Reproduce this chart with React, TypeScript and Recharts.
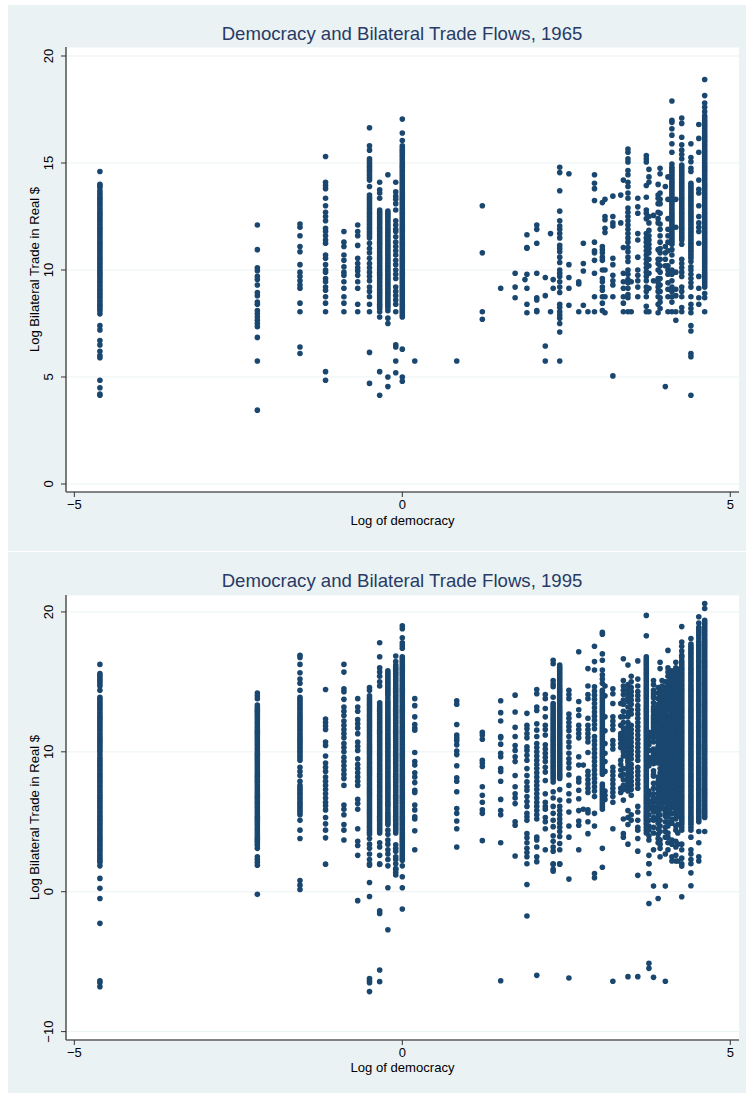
import { ScatterChart, Scatter, XAxis, YAxis, CartesianGrid } from "recharts";

const FONT = '"Liberation Sans", Arial, sans-serif';
const PANEL_BG = "#eaf2f3";
const AXIS_COLOR = "#5c5c5c";
const MARKER = "#1a476f";

const xTicks = [-5, 0, 5];
const xDomain = [-5.127, 5.133];

// democracy scores that show up as columns in 1965
const x1965 = [
  -4.61, -2.21, -1.56, -1.17, -0.89, -0.68, -0.5, -0.345, -0.22, -0.1, 0, 0.19, 0.83, 1.22, 1.5, 1.72, 1.87, 1.9, 2.05,
  2.18, 2.26, 2.3, 2.4, 2.54, 2.69, 2.76, 2.83, 2.93, 3.05, 3.09, 3.21, 3.33, 3.37, 3.44, 3.49, 3.59, 3.72, 3.76, 3.83,
  3.9, 3.93, 4.01, 4.05, 4.11, 4.17, 4.26, 4.4, 4.52, 4.61,
];

const y1965 = [
  [14.6, 14, 13.85, 13.7, 13.5, 13.3, 13.1, 12.9, 12.7, 12.5, 12.3, 12.1, 11.9, 11.7, 11.5, 11.3, 11.1, 10.9, 10.7, 10.5, 10.3, 10.1, 9.9, 9.7, 9.5, 9.3, 9.1, 8.9, 8.7, 8.5, 8.3, 8.1, 7.95, 7.4, 7.2, 6.7, 6.5, 6.2, 6, 5.9, 4.85, 4.5, 4.15, 4.2],
  [12.1, 10.95, 10.1, 9.97, 9.7, 9.55, 9.3, 8.95, 8.8, 8.5, 8.4, 8.1, 7.95, 7.8, 7.65, 7.5, 7.35, 6.85, 5.75, 3.45],
  [12.15, 12, 11.6, 11.1, 10.85, 10.25, 9.9, 9.7, 9.5, 9.3, 9.15, 8.45, 8.05, 6.4, 6.1],
  [15.3, 14.1, 13.95, 13.8, 13.35, 13, 12.7, 12.5, 12.3, 11.95, 11.8, 11.6, 11.4, 11.25, 10.7, 10.55, 10.25, 10, 9.9, 9.6, 9.45, 9.2, 9.05, 8.75, 8.45, 8.05, 5.25, 4.85],
  [11.8, 11.3, 11.1, 10.7, 10.45, 10.15, 9.9, 9.75, 9.45, 9.15, 8.75, 8.45, 8.05],
  [12.1, 11.8, 11.6, 11.15, 10.55, 10.3, 10.1, 9.95, 9.75, 9.45, 9.15, 8.4, 8.05],
  [16.65, 15.8, 15.6, 15.2, 15, 14.8, 14.6, 14.4, 14.2, 13.9, 13.5, 13.3, 13.1, 12.9, 12.7, 12.5, 12.3, 12.1, 11.9, 11.7, 11.5, 11.25, 11, 10.8, 10.55, 10.3, 10.1, 9.9, 9.7, 9.5, 9.2, 9, 8.75, 8.4, 8.05, 6.15, 4.7],
  [14.1, 13.75, 13.6, 13.35, 12.8, 12.6, 12.4, 12.2, 12, 11.8, 11.6, 11.4, 11.2, 11, 10.8, 10.6, 10.4, 10.2, 10, 9.8, 9.6, 9.4, 9.2, 9, 8.8, 8.6, 8.4, 8.2, 8.05, 7.8, 5.25, 4.15],
  [14.45, 12.75, 12.55, 12.35, 12.15, 11.95, 11.75, 11.55, 11.35, 11.15, 10.95, 10.75, 10.55, 10.35, 10.15, 9.95, 9.75, 9.55, 9.35, 9.15, 8.95, 8.75, 8.55, 8.35, 8.1, 7.75, 7.5, 5, 4.55],
  [14.1, 13.65, 13.45, 13.3, 13.1, 12.8, 12.3, 12.1, 11.9, 11.8, 11.55, 11.3, 11.1, 10.9, 10.7, 10.45, 10.25, 10, 9.8, 9.6, 9.2, 9, 8.8, 8.6, 8.4, 8.05, 6.5, 6.4, 5.75, 5.2],
  [17.05, 16.4, 16.05, 15.8, 15.6, 15.4, 15.2, 15, 14.8, 14.6, 14.4, 14.2, 14, 13.8, 13.6, 13.4, 13.2, 13, 12.8, 12.6, 12.4, 12.2, 12, 11.8, 11.6, 11.4, 11.2, 11, 10.8, 10.6, 10.4, 10.2, 10, 9.8, 9.6, 9.4, 9.2, 9, 8.8, 8.6, 8.4, 8.2, 8, 7.8, 6.3, 5, 4.8],
  [5.75],
  [5.75],
  [13, 10.8, 8.05, 7.7],
  [9.15],
  [9.85, 9.2, 8.7],
  [9.55],
  [11.65, 11.05, 11.02, 9.8, 9.15, 8.4, 8],
  [12.1, 11.9, 11.25, 9.85, 8.7, 8.6, 8.1, 8.05],
  [9.65, 8.8, 6.45, 5.75],
  [11.7, 8.05],
  [9.55, 9.15],
  [14.8, 14.55, 13.7, 12.75, 12.3, 12.05, 11.9, 11.7, 11.5, 11.15, 11, 10.85, 10.6, 10.35, 10, 9.85, 9.7, 9.45, 9.2, 8.95, 8.4, 8.25, 8.05, 7.9, 7.75, 7.5, 7.1, 5.75],
  [14.5, 10.25, 9.65, 9.15, 8.35],
  [9.45, 9.35, 8.05],
  [11.25, 10.3, 9.95, 8.35],
  [8.05],
  [14.45, 14.05, 13.8, 13.25, 11.3, 10.9, 10.8, 10.45, 9.85, 8.75, 8.05],
  [13.15, 11.1, 10.95, 10.8, 10.6, 10.45, 10, 9.6, 9.45, 9.2, 9.05, 8.75, 8.45, 8.1],
  [13.3, 12.5, 12.35, 11.95, 11.75, 10, 8.75, 8],
  [13.45, 12.5, 12.2, 12.05, 10.55, 10.25, 9.75, 9.5, 9.3, 8.75, 5.05],
  [13.5, 12.2],
  [14.2, 11.05, 9.85, 9.45, 9.15, 8.75, 8.45, 8.05],
  [15.65, 15.5, 15.2, 15.05, 14.65, 14.45, 14.1, 13.9, 13.6, 13.35, 12.9, 12.7, 12.5, 12.3, 12.1, 11.9, 11.7, 11.5, 11.3, 11.05, 10.85, 10.6, 10.4, 10, 9.8, 9.55, 9.4, 9.15, 8.85, 8.7, 8.05],
  [9.45, 8.05],
  [13.35, 12.95, 12.65, 11.7, 11.4, 10.6, 10, 9.75, 9.5, 9.2, 8.75],
  [15.35, 15.2, 15.05, 13.95, 13.4, 12.8, 12.65, 12.4, 11.7, 11.5, 11.3, 11.1, 10.9, 10.7, 10.5, 10.3, 10.1, 9.9, 9.7, 9.5, 9.2, 9, 8.75, 8.3, 8.05],
  [14.7, 14.35, 14.1, 12.5, 12.2, 11.85, 11.6, 11.4, 11.2, 11, 10.8, 10.5, 10.2, 9.85, 9.15, 8.05],
  [12.55, 9.5],
  [14, 13.5, 13.35, 13.1, 12.7, 12.4, 12.2, 10.95, 10.5, 10.3, 10, 9.6, 9.4, 9.2, 9, 8.75, 8.4, 8],
  [14.75, 14.5, 13.6, 13.3, 13.1, 12.65, 12.15, 11.9, 11.6, 11.3, 11, 10.8, 10.5, 10.2, 9.9, 9.6, 9.3, 9, 8.7, 8.5, 8.2],
  [13.9, 11.1, 10.8, 10.5, 10.2, 4.55],
  [14.35, 13.3, 12.4, 11.9, 11.6, 11.3, 10.9, 10.2, 10, 9.8, 9.4, 9.1, 8.75, 8.05],
  [17.9, 17, 16.9, 16.6, 16.3, 15.9, 15.5, 14.95, 14.8, 14.6, 14.4, 14.2, 14, 13.8, 13.6, 13.4, 13.2, 13, 12.8, 12.6, 12.4, 12.2, 12, 11.8, 11.6, 11.4, 11.2, 10.95, 10.7, 10.4, 10, 9.8, 9.5, 9.2, 9, 8.75, 8.5, 8.05],
  [13.3, 12, 9.9, 9.1, 8.8, 8.05, 7.65],
  [17.1, 16.85, 16.2, 15.85, 15.6, 15.4, 15.2, 14.9, 14.7, 14.5, 14.3, 14.1, 13.9, 13.7, 13.5, 13.3, 13.1, 12.9, 12.7, 12.5, 12.3, 12.1, 11.9, 11.7, 11.5, 11.2, 10.5, 10.3, 10.1, 9.9, 9.7, 9.2, 9, 8.75, 8.25, 8.05],
  [15.9, 15.26, 15.06, 14.75, 14.6, 14.05, 13.85, 13.65, 13.45, 13.25, 13.05, 12.85, 12.65, 12.45, 12.25, 12.05, 11.85, 11.65, 11.45, 11.25, 11.05, 10.85, 10.65, 10.4, 10.15, 10, 9.8, 9.6, 9.4, 9.2, 8.75, 8.4, 8.2, 8, 7.4, 7.15, 6.1, 5.95, 4.15],
  [16.8, 16.15, 15.5, 14.2, 13.77, 13.6, 13, 12.5, 12.2, 12, 11.8, 11.25, 9.7, 9.15, 8.7, 8.4],
  [18.9, 18.15, 17.8, 17.6, 17.4, 17.2, 17, 16.8, 16.6, 16.4, 16.2, 16, 15.8, 15.6, 15.4, 15.2, 15, 14.8, 14.6, 14.4, 14.2, 14, 13.8, 13.6, 13.4, 13.2, 13, 12.8, 12.6, 12.4, 12.2, 12, 11.8, 11.6, 11.4, 11.2, 11, 10.8, 10.6, 10.4, 10.2, 10, 9.8, 9.6, 9.4, 9.2, 8.9, 8.7, 8.05],
];

// more observations on the columns that read as solid bars in 1965
const extraX1965 = [-4.61, -0.5, -0.345, -0.22, 0, 4.11, 4.26, 4.4, 4.61];

const extraY1965 = [
  [13.95, 13.6, 13.4, 13.2, 13, 12.8, 12.6, 12.4, 12.2, 12, 11.8, 11.6, 11.4, 11.2, 11, 10.8, 10.6, 10.4, 10.2, 10, 9.8, 9.6, 9.4, 9.2, 9, 8.8, 8.6, 8.4, 8.2],
  [15.1, 14.9, 14.7, 14.5, 14.3, 13.4, 13.2, 13, 12.8, 12.6, 12.4, 12.2, 12, 11.8, 11.6],
  [12.7, 12.5, 12.3, 12.1, 11.9, 11.7, 11.5, 11.3, 11.1, 10.9, 10.7, 10.5, 10.3, 10.1, 9.9, 9.7, 9.5, 9.3, 9.1, 8.9, 8.7, 8.5, 8.3],
  [12.65, 12.45, 12.25, 12.05, 11.85, 11.65, 11.45, 11.25, 11.05, 10.85, 10.65, 10.45, 10.25, 10.05, 9.85, 9.65, 9.45, 9.25, 9.05, 8.85, 8.65, 8.45, 8.25],
  [15.7, 15.5, 15.3, 15.1, 14.9, 14.7, 14.5, 14.3, 14.1, 13.9, 13.7, 13.5, 13.3, 13.1, 12.9, 12.7, 12.5, 12.3, 12.1, 11.9, 11.7, 11.5, 11.3, 11.1, 10.9, 10.7, 10.5, 10.3, 10.1, 9.9, 9.7, 9.5, 9.3, 9.1, 8.9, 8.7, 8.5, 8.3, 8.1, 7.9],
  [14.7, 14.5, 14.3, 14.1, 13.9, 13.7, 13.5, 13.3, 13.1, 12.9, 12.7, 12.5, 12.3, 12.1, 11.9, 11.7, 11.5, 11.3],
  [14.8, 14.6, 14.4, 14.2, 14, 13.8, 13.6, 13.4, 13.2, 13, 12.8, 12.6, 12.4, 12.2, 12, 11.8, 11.6, 11.4],
  [13.95, 13.75, 13.55, 13.35, 13.15, 12.95, 12.75, 12.55, 12.35, 12.15, 11.95, 11.75, 11.55, 11.35, 11.15, 10.95, 10.75, 10.55],
  [17.1, 16.9, 16.7, 16.5, 16.3, 16.1, 15.9, 15.7, 15.5, 15.3, 15.1, 14.9, 14.7, 14.5, 14.3, 14.1, 13.9, 13.7, 13.5, 13.3, 13.1, 12.9, 12.7, 12.5, 12.3, 12.1, 11.9, 11.7, 11.5, 11.3, 11.1, 10.9, 10.7, 10.5, 10.3, 10.1, 9.9, 9.7, 9.5, 9.3],
];

const x1995 = [
  -4.61, -2.21, -1.56, -1.17, -0.89, -0.68, -0.5, -0.345, -0.22, -0.1, 0, 0.19, 0.83, 1.22, 1.5, 1.72, 1.9, 2.05, 2.18, 2.3,
  2.4, 2.54, 2.69, 2.76, 2.83, 2.93, 3.05, 3.09, 3.21, 3.33, 3.37, 3.44, 3.49, 3.59, 3.72, 3.76, 3.83, 3.9, 3.93, 4.01,
  4.05, 4.11, 4.17, 4.2, 4.26, 4.4, 4.52, 4.61,
];

const y1995 = [
  [16.25, 15.6, 15.3, 15, 14.7, 14.4, 13.9, 13.6, 13.3, 13, 12.7, 12.4, 12.1, 11.8, 11.5, 11.2, 10.9, 10.6, 10.3, 10, 9.6, 9.3, 9, 8.7, 8.4, 8.1, 7.8, 7.5, 7.2, 6.9, 6.6, 6.3, 6, 5.7, 5.4, 5.1, 4.8, 4.5, 4.2, 3.9, 3.6, 3.3, 3, 2.7, 2.4, 2.1, 1.85, 0.95, 0.24, -0.48, -2.26, -6.36, -6.5, -6.79],
  [14.2, 14, 13.8, 13.2, 12.9, 12.6, 12.3, 12, 11.7, 11.4, 11.1, 10.8, 10.5, 10.2, 9.9, 9.6, 9.3, 9, 8.7, 8.4, 8.1, 7.8, 7.5, 7.2, 6.9, 6.6, 6.3, 6, 5.7, 5.4, 5.1, 4.8, 4.5, 4.2, 3.9, 3.6, 3.3, 3.1, 2.5, 2.3, 2.1, 1.9, -0.19],
  [16.9, 16.75, 16.25, 15.65, 15.2, 14.9, 14.4, 13.9, 13.6, 13.3, 13, 12.7, 12.4, 12.1, 11.8, 11.5, 11.2, 10.9, 10.6, 10.3, 10, 9.7, 9.4, 8.9, 8.6, 8.3, 7.9, 7.6, 7.3, 7, 6.7, 6.4, 6.1, 5.8, 5.5, 5.1, 4.4, 3.8, 0.8, 0.47, 0.16],
  [14.45, 12.35, 12.1, 11.85, 11.6, 10.7, 10.45, 9.7, 9.2, 8.9, 8.6, 8.2, 7.9, 7.6, 7.3, 7, 6.7, 6.4, 6.15, 5.85, 5.3, 4.85, 4.4, 3.85, 1.97],
  [16.25, 15.7, 14.5, 14.3, 13.75, 13.2, 12.9, 12.6, 12.2, 11.9, 11.6, 11.3, 11, 10.6, 10.3, 10, 9.6, 9.3, 9, 8.7, 8.4, 8.1, 7.6, 6.2, 5.9, 5.5, 4.8, 4.4, 3.7],
  [13.8, 13.2, 12.9, 12.3, 12, 11.7, 11.3, 10.7, 10.4, 10.1, 9.5, 9.1, 8.8, 8.5, 8.2, 7.9, 7.6, 6.6, 6.3, 5.9, 4.5, 3.6, 3.3, 2.6, -0.64],
  [14.6, 14.4, 14, 13.7, 13.4, 13.1, 12.8, 12.5, 12.2, 11.9, 11.6, 11.3, 11, 10.7, 10.4, 10.1, 9.8, 9.5, 9.2, 8.9, 8.6, 8.3, 8, 7.7, 7.4, 7.1, 6.8, 6.5, 6.2, 5.9, 5.6, 5.3, 5, 4.7, 4.4, 4.1, 3.8, 3.4, 3.1, 2.7, 2.3, 2, 1.9, 0.66, -0.34, -6.2, -6.36, -6.5, -7.14],
  [17.8, 16.8, 16, 15.7, 15.4, 15, 14.7, 13.5, 13.2, 12.9, 12.6, 12.3, 12, 11.7, 11.4, 11.1, 10.8, 10.5, 10.2, 9.9, 9.6, 9.3, 9, 8.7, 8.4, 8.1, 7.8, 7.5, 7.2, 6.9, 6.6, 6.3, 6, 5.7, 5.4, 5.1, 4.8, 4.5, 4.2, 3.5, 3.2, 2.6, 2, 1.95, -1.36, -1.55, -5.6, -6.43],
  [15.8, 15.5, 15.2, 14.9, 14.6, 14.3, 14, 13.6, 13.3, 13, 12.7, 12.4, 12.1, 11.8, 11.5, 11.2, 10.9, 10.6, 10.3, 10, 9.7, 9.4, 9.1, 8.8, 8.5, 8.2, 7.9, 7.6, 7.3, 7, 6.7, 6.4, 6.1, 5.7, 5.4, 5.1, 4.8, 4.4, 4.1, 3.7, 3.4, 3, 2.7, 2.3, 1.85, 0.28, -2.72],
  [16.85, 16.45, 16.2, 15.9, 15.6, 15.3, 15, 14.7, 14.4, 14.1, 13.8, 13.5, 13.2, 12.9, 12.6, 12.3, 12, 11.7, 11.4, 11.1, 10.8, 10.5, 10.2, 9.9, 9.6, 9.3, 9, 8.7, 8.4, 8.1, 7.8, 7.5, 7.2, 6.9, 6.6, 6.3, 6, 5.7, 5.4, 5.1, 4.8, 4.5, 4.2, 3.35, 3.1, 2.9, 2.5, 2.3, 2, 1.65, 1.6, 1.4, 1.2],
  [19, 18.8, 18.15, 17.8, 17.6, 17.4, 16.8, 16.5, 16.2, 15.9, 15.6, 15.3, 15, 14.7, 14.4, 14.1, 13.8, 13.5, 13.2, 12.9, 12.6, 12.3, 12, 11.7, 11.4, 11.1, 10.8, 10.5, 10.2, 9.9, 9.6, 9.3, 9, 8.7, 8.4, 8.1, 7.8, 7.5, 7.2, 6.9, 6.6, 6.3, 6, 5.7, 5.4, 5.1, 4.8, 4.5, 4.2, 3.9, 3.6, 3.3, 3, 2.7, 2.4, 2.25, 1.85, 1.07, 0.28, -1.24],
  [13.8, 13.3, 12.5, 11.95, 11.7, 11.55, 9.95, 9.3, 9.05, 8.5, 8.2, 7.8, 7.25, 7.1, 6.2, 5.85, 5.35, 5.2, 4.35, 3],
  [13.65, 13.4, 11.95, 11.2, 11, 10.8, 10.5, 10.05, 9.8, 9, 8.15, 7.9, 7.15, 5.95, 5.6, 5.05, 4.5, 3.2],
  [11.4, 11.2, 10.9, 9.4, 9.2, 8.95, 7.5, 6.9, 6.4, 5.85, 5.6, 3.65],
  [13.65, 12.8, 12.2, 11.1, 11, 10.55, 9.9, 9.65, 8.8, 8.6, 7.9, 6.6, 5.8, 5.5, 3.5, -6.36],
  [14.05, 12.85, 11.75, 11.1, 10.45, 10.1, 9.65, 9.3, 8.3, 7.5, 7, 6.7, 6.3, 5, 4.75, 2.55],
  [12.75, 11.9, 11.65, 11.3, 11, 10.35, 10.1, 9.75, 9.4, 8.8, 8.3, 7.85, 7.5, 7.25, 6.8, 6.45, 6.1, 5.6, 5.35, 5.1, 4.15, 3.85, 3.5, 3.1, 2.8, 2.5, 2, 0.52, -1.74],
  [14.45, 14.15, 13.2, 12.95, 12, 11.55, 11.1, 10.6, 10.3, 10, 9.7, 9.4, 9.1, 8.8, 8.5, 8.2, 7.9, 7.6, 7.3, 7, 6.7, 6.4, 6.1, 5.8, 5.5, 5.2, 3.9, 3.7, 3.2, 2.5, 2.15, -5.98],
  [14.1, 13.8, 13.1, 12.5, 11.9, 11.6, 11.2, 10.5, 10.2, 9.9, 9.6, 9.3, 8.9, 8.55, 7.95, 7, 6.4, 6.1, 5.9, 5.3, 5, 4.5, 3],
  [16.55, 16.3, 15.1, 14.85, 14.65, 13.9, 13.45, 13.15, 12.85, 12.55, 12.25, 11.95, 11.65, 11.35, 11.05, 10.75, 10.45, 10.15, 9.85, 9.55, 9.25, 8.95, 8.65, 8.35, 8.05, 7.85, 7.15, 6.7, 6.1, 5.6, 5.1, 4.65, 4, 3.6, 3.2, 2.9, 2, 1.6, 1.47, 1.95],
  [16.2, 15.9, 15.6, 15.3, 15, 14.7, 14.4, 14.1, 13.8, 13.5, 13.2, 12.9, 12.6, 12.3, 12, 11.7, 11.4, 11.1, 10.8, 10.5, 10.2, 9.9, 9.6, 9.3, 9, 8.7, 8.4, 8.1, 7.3, 6.55, 6.1, 5.8, 5.5, 5.2, 4.9, 4.6, 4.3, 3.95, 3.45, 3, 2, 1.97],
  [14.4, 14.1, 13.8, 12.7, 12.4, 12.1, 11.8, 11.5, 11.1, 10.7, 10.35, 9.9, 9.5, 9.2, 8.85, 8.35, 7.6, 7, 6.5, 5.7, 4.7, 3.9, 0.9, -6.17],
  [17.15, 13.6, 13, 12.6, 11.9, 11.6, 11.3, 11, 9.65, 9.05, 8.1, 7.85, 7.25, 6.65, 5.8, 5.05, 4.75, 3],
  [9.05, 5.9],
  [15.95, 14.7, 14.1, 13.8, 12.4, 11.9, 11.6, 11.3, 11, 10.7, 9.95, 8.6, 8.3, 8, 7.7, 7.4, 7.1, 5.85, 5.65, 5, 4.15],
  [17.55, 16.45, 15.85, 14.65, 14.35, 14.05, 13.75, 13.45, 13.15, 12.85, 12.55, 12.25, 11.95, 11.65, 11.1, 10.8, 10.5, 10.2, 9.9, 9.6, 9.3, 9, 8.7, 8.4, 8.1, 7.8, 7.5, 7.2, 6.8, 5.6, 4.7, 1.3, 1],
  [18.55, 18.4, 17, 16.55, 15.85, 15.5, 15.2, 14.9, 14.4, 14.1, 13.8, 13.5, 13.2, 12.9, 12.6, 12.3, 12, 11.7, 11.4, 11.1, 10.8, 10.5, 10.2, 9.9, 9.6, 9.3, 9, 8.7, 8.4, 7.7, 7.4, 7.1, 6.8, 6.5, 6.2, 5.9, 3.1, 1.75],
  [14.7, 14, 12.5, 11.5, 10.6, 9.9, 9.3, 8.6, 7.2, 6.9, 6.6],
  [14.5, 14.15, 13.45, 12.5, 12.2, 11.9, 11.6, 10.8, 10.5, 10.2, 8.9, 8.6, 8.3, 8, 7.7, 7.4, 7.1, 6.8, 6.4, 4.5, -6.4],
  [13.45, 12.5, 11.9, 11.3, 11.1, 10.9, 10.6, 10.3, 9.4, 9.1, 8.7, 8.3, 7.4, 7.1],
  [16.65, 15.1, 14.7, 14.4, 14.1, 13.7, 13.4, 12.9, 12.5, 12.1, 11.7, 11.4, 11.1, 10.9, 10.6, 10.3, 10, 9.7, 8.8, 8.4, 8, 7.6, 7.3, 6.55, 5.2, 4.15, 3.9],
  [16.2, 14.8, 14.5, 14.2, 13.9, 13.6, 13.2, 12.8, 12.5, 11.8, 11.5, 11.2, 10.9, 10.6, 10.3, 10, 9.7, 9.4, 9, 8.4, 8.1, 7.8, 7.5, 7.2, 5.8, 5.3, 4.8, 3.4, -6.07],
  [15.4, 15, 14.6, 14.3, 14, 13.7, 13.4, 13, 12.7, 11.9, 11.6, 11.3, 11, 10.7, 10.4, 10.1, 9.8, 9.5, 9.1, 8.8, 8.5, 8.2, 7.9, 7.6, 7.3, 6.9, 5.5, 5.1],
  [16.5, 15.2, 14.7, 14.3, 14, 13.7, 13.3, 13, 12.7, 12.4, 12.1, 11.8, 11.5, 11.2, 10.9, 10.6, 10.3, 10, 9.7, 9.4, 8.9, 8.6, 8.3, 8, 7.7, 7.4, 6.1, 5.7, 5.1, 4.6, 4.4, 3.8, 2.9, 1.17, -6.07],
  [19.75, 18.3, 16.8, 16.5, 16.2, 15.9, 15.6, 15.3, 15, 14.7, 14.4, 14.1, 13.8, 13.5, 13.2, 12.9, 12.6, 12.3, 12, 11.7, 11.4, 11.1, 10.8, 10.5, 10.2, 9.9, 9.6, 9.3, 9, 8.7, 8.4, 8.1, 7.8, 7.5, 7.2, 6.9, 6.6, 6.3, 6, 5.7, 5.4, 5.1, 4.8, 4.4, 4.2],
  [11.4, 11.1, 10.8, 10.5, 10.1, 9.6, 9.3, 9, 7.2, 6.9, 6.5, 6.2, 5.9, 5.5, 5.1, 4.7, 4.4, 4, 3.7, 2.6, 2, 2, 1.3, -0.84, -5.12, -5.48],
  [15.1, 14.4, 14, 13, 12.6, 12.3, 12, 11.7, 11.4, 11, 10.2, 9.9, 9.4, 8.4, 7, 6.7, 6.4, 6.1, 5.7, 5.3, 3, 0.4, -6.12],
  [14.6, 14.2, 13.8, 13.4, 13.1, 12.8, 12.5, 12.2, 11.9, 11.6, 11.3, 11, 10.7, 10.4, 10.1, 9.8, 9.5, 9.2, 8.2, 7.9, 7.6, 7.3, 7, 6.7, 6.4, 6.1, 5.8, 5.5, 5.2, 4.9, 4.5, 4.1, 3.8, 3.5, -0.48],
  [16.4, 15.95, 14.4, 14.1, 13.7, 13.4, 13.1, 12.8, 12.5, 12.1, 11.7, 11.4, 11, 10.7, 10.4, 10.1, 9.8, 9.5, 9.2, 8.8, 8.5, 8.2, 7.9, 7.6, 7.3, 7, 6.7, 6.4, 5.9, 5.5, 5.1, 4.7, 4.3, 3.7, 3.4, 3.1, 2.5],
  [15, 14.6, 14.3, 13.9, 13.6, 13.2, 12.8, 12.5, 12.2, 11.8, 11.5, 11.2, 10.9, 10.6, 10.2, 9.9, 9.6, 9.3, 9, 8.7, 8.4, 8.1, 7.7, 7.4, 7, 6.7, 6.4, 6, 5.7, 5.4, 5, 4.6, 4.3, 3.9, 2.7, 0.4, -6.4],
  [17.25, 16, 15.7, 15.4, 15, 14.7, 14.3, 14, 13.6, 13.3, 13, 12.6, 12.3, 12, 11.7, 11.4, 11.1, 10.8, 10.5, 10.2, 9.9, 9.6, 9.3, 9, 8.7, 8.4, 8, 7.6, 7.2, 6.9, 6.5, 6.1, 5.8, 5.4, 5, 4.7, 4.2, 3.9, 3.5, 3],
  [15.8, 15.4, 15, 14.6, 14.2, 13.8, 13.5, 13.1, 12.8, 12.4, 12.1, 11.8, 11.5, 11.2, 10.8, 10.5, 10.2, 9.9, 9.6, 9.3, 9, 8.6, 8.3, 8, 7.7, 7.4, 7, 6.7, 6.3, 6, 5.6, 5.2, 4.9, 3.7, 3.4, 2.5, 2.2],
  [16.4, 16, 15.6, 15.2, 14.8, 14.4, 14, 13.7, 13.3, 13, 12.6, 12.3, 12, 11.6, 11.3, 11, 10.7, 10.4, 10.1, 9.8, 9.5, 9.1, 8.8, 8.5, 8.2, 7.8, 7.5, 7.2, 6.9, 6.6, 6.2, 5.8, 5.5, 5.2, 4.7, 4.4, 3.6, 3.2, 2.6, 2.2],
  [15.9, 15.6, 15.1, 14.7, 14.4, 14, 13.6, 13, 12.4, 11.8, 10.7, 9.9, 9.2, 8.4, 7.7, 7, 6.2, 5.4, 4.8, 4.2, 3.4, 2.2],
  [18.95, 17.55, 17.2, 16.9, 16.5, 16.2, 15.9, 15.6, 15.3, 15, 14.7, 14.4, 14.1, 13.8, 13.5, 13.2, 12.9, 12.6, 12.3, 12, 11.7, 11.4, 11.1, 10.8, 10.5, 10.2, 9.9, 9.6, 9.3, 9, 8.7, 8.4, 8.1, 7.8, 7.5, 7.2, 6.9, 6.6, 6.3, 6, 5.7, 5.4, 5.1, 4.8, 4.4, 3.4, 3, 2.4, 2, 1.83, -0.36],
  [18.1, 17.7, 17.4, 17.1, 16.8, 16.5, 16.2, 15.9, 15.6, 15.3, 15, 14.7, 14.4, 14.1, 13.8, 13.5, 13.2, 12.9, 12.6, 12.3, 12, 11.7, 11.4, 11.1, 10.8, 10.5, 10.2, 9.9, 9.6, 9.3, 9, 8.7, 8.4, 8.1, 7.8, 7.5, 7.2, 6.9, 6.6, 6.3, 6, 5.7, 5.4, 5.1, 4.8, 4.4, 3.9, 3, 2.7, 2.3, 2, 1.35, 0.43],
  [19.65, 19.2, 18.9, 18.6, 18.3, 17.9, 17.6, 17.3, 17, 16.7, 16.4, 16.1, 15.8, 15.5, 15.2, 14.9, 14.6, 14.3, 14, 13.7, 13.4, 13.1, 12.8, 12.5, 12.2, 11.9, 11.6, 11.3, 11, 10.7, 10.4, 10.1, 9.8, 9.5, 9.2, 8.9, 8.6, 8.3, 8, 7.7, 7.4, 7.1, 6.8, 6.5, 6.2, 5.9, 5.6, 5.3, 5, 4.3, 3.5, 2.5, 2.2],
  [20.6, 20.25, 19.4, 19.1, 18.8, 18.5, 18.2, 17.9, 17.6, 17.3, 17, 16.7, 16.4, 16.1, 15.8, 15.5, 15.2, 14.9, 14.6, 14.3, 14, 13.7, 13.4, 13.1, 12.8, 12.5, 12.2, 11.9, 11.6, 11.3, 11, 10.7, 10.4, 10.1, 9.8, 9.5, 9.2, 8.9, 8.6, 8.3, 8, 7.7, 7.4, 7.1, 6.8, 6.5, 6.2, 5.9, 5.6, 5.3, 4.3],
];

// solid columns and the crowded middle of the 1995 cloud
const extraX1995 = [-4.61, -2.21, -1.56, -0.5, -0.345, -0.22, -0.1, 0, 2.3, 2.4, 3.05, 3.44, 3.72, 3.83, 3.96, 4.01, 4.08, 4.14, 4.2, 4.26, 4.4, 4.52, 4.61];

const extraY1995 = [
  [15.45, 15.15, 14.85, 13.75, 13.45, 13.15, 12.85, 12.55, 12.25, 11.95, 11.65, 11.35, 11.05, 10.75, 10.45, 10.15, 9.8, 9.45, 9.15, 8.85, 8.55, 8.25, 7.95, 7.65, 7.35, 7.05, 6.75, 6.45, 6.15, 5.85, 5.55, 5.25, 4.95, 4.65, 4.35, 4.05, 3.75, 3.45, 3.15, 2.85, 2.55, 2.25],
  [13.35, 13.05, 12.75, 12.45, 12.15, 11.85, 11.55, 11.25, 10.95, 10.65, 10.35, 10.05, 9.75, 9.45, 9.15, 8.85, 8.55, 8.25, 7.95, 7.65, 7.35, 7.05, 6.75, 6.45, 6.15, 5.85, 5.55, 5.25, 4.95, 4.65, 4.35, 4.05, 3.75, 3.45],
  [13.75, 13.45, 13.15, 12.85, 12.55, 12.25, 11.95, 11.65, 11.35, 11.05, 10.75, 10.45, 10.15, 9.85, 9.55, 7.45, 7.15, 6.85, 6.55, 6.25, 5.95, 5.65],
  [13.85, 13.55, 13.25, 12.95, 12.65, 12.35, 12.05, 11.75, 11.45, 11.15, 10.85, 10.55, 10.25, 9.95, 9.65, 9.35, 9.05, 8.75, 8.45, 8.15, 7.85, 7.55, 7.25, 6.95, 6.65, 6.35, 6.05, 5.75, 5.45, 5.15, 4.85, 4.55, 4.25],
  [13.35, 13.05, 12.75, 12.45, 12.15, 11.85, 11.55, 11.25, 10.95, 10.65, 10.35, 10.05, 9.75, 9.45, 9.15, 8.85, 8.55, 8.25, 7.95, 7.65, 7.35, 7.05, 6.75, 6.45, 6.15, 5.85, 5.55, 5.25, 4.95, 4.65, 4.35],
  [15.65, 15.35, 15.05, 14.75, 14.45, 14.15, 13.8, 13.45, 13.15, 12.85, 12.55, 12.25, 11.95, 11.65, 11.35, 11.05, 10.75, 10.45, 10.15, 9.85, 9.55, 9.25, 8.95, 8.65, 8.35, 8.05, 7.75, 7.45, 7.15, 6.85, 6.55, 6.25, 5.9, 5.55, 5.25, 4.95],
  [16.05, 15.75, 15.45, 15.15, 14.85, 14.55, 14.25, 13.95, 13.65, 13.35, 13.05, 12.75, 12.45, 12.15, 11.85, 11.55, 11.25, 10.95, 10.65, 10.35, 10.05, 9.75, 9.45, 9.15, 8.85, 8.55, 8.25, 7.95, 7.65, 7.35, 7.05, 6.75, 6.45, 6.15, 5.85, 5.55, 5.25, 4.95, 4.65, 4.35],
  [16.65, 16.35, 16.05, 15.75, 15.45, 15.15, 14.85, 14.55, 14.25, 13.95, 13.65, 13.35, 13.05, 12.75, 12.45, 12.15, 11.85, 11.55, 11.25, 10.95, 10.65, 10.35, 10.05, 9.75, 9.45, 9.15, 8.85, 8.55, 8.25, 7.95, 7.65, 7.35, 7.05, 6.75, 6.45, 6.15, 5.85, 5.55, 5.25, 4.95, 4.65, 4.35, 4.05, 3.75, 3.45, 3.15, 2.85, 2.55],
  [13.3, 13, 12.7, 12.4, 12.1, 11.8, 11.5, 11.2, 10.9, 10.6, 10.3, 10, 9.7, 9.4, 9.1, 8.8, 8.5, 8.2],
  [16.05, 15.75, 15.45, 15.15, 14.85, 14.55, 14.25, 13.95, 13.65, 13.35, 13.05, 12.75, 12.45, 12.15, 11.85, 11.55, 11.25, 10.95, 10.65, 10.35, 10.05, 9.75, 9.45, 9.15, 8.85, 8.55, 8.25],
  [14.25, 13.95, 13.65, 13.35, 13.05, 12.75, 12.45, 12.15, 11.85, 11.55, 11.25, 10.95, 10.65, 10.35, 10.05, 9.75, 9.45, 9.15, 8.85, 8.55, 7.55, 7.25, 6.95, 6.65, 6.35, 6.05],
  [12.1, 11.65, 11.35, 11.05, 10.75, 10.45, 10.15, 9.85, 9.55, 9.25, 8.7, 8.25, 7.95, 7.65, 7.35],
  [16.65, 16.35, 16.05, 15.75, 15.45, 15.15, 14.85, 14.55, 14.25, 13.95, 13.65, 13.35, 13.05, 12.75, 12.45, 12.15, 11.85, 11.55, 11.25, 10.95, 10.65, 10.35, 10.05, 9.75, 9.45, 9.15, 8.85, 8.55, 8.25, 7.95, 7.65, 7.35, 7.05, 6.75, 6.45, 6.15, 5.85, 5.55, 5.25, 4.95, 4.6],
  [14.8, 14.2, 13.85, 13.5, 13.2, 12.85, 12.45, 12.15, 11.85, 11.55, 11.2, 10.7, 10.1, 9.65, 9.15, 8.65, 8.25, 7.75, 7.4, 6.55, 5.9, 5.1, 4.6, 4.2],
  [15.1, 14.7, 14.35, 14, 13.65, 13.3, 12.95, 12.6, 12.25, 11.9, 11.55, 11.2, 10.85, 10.5, 10.15, 9.8, 9.45, 9.1, 8.75, 8.4, 8.05, 7.7, 7.35, 7, 6.65, 6.3, 5.95],
  [14.45, 13.95, 13.55, 13.15, 12.7, 12.35, 11.95, 11.55, 11.25, 10.65, 10.25, 9.85, 9.45, 9.05, 8.65, 8.25, 7.85, 7.45, 7.05, 6.55],
  [15.5, 15.1, 14.75, 14.4, 14.05, 13.7, 13.35, 13, 12.65, 12.3, 11.95, 11.6, 11.25, 10.9, 10.55, 10.2, 9.85, 9.5, 9.15, 8.8, 8.45, 8.1, 7.75, 7.4, 7.05, 6.7, 6.35, 6, 5.65],
  [15.65, 15.25, 14.85, 14.45, 14.1, 13.75, 13.4, 13.05, 12.7, 12.35, 12, 11.65, 11.3, 10.95, 10.6, 10.25, 9.9, 9.55, 9.2, 8.85, 8.5, 8.15, 7.8, 7.45, 7.1, 6.75, 6.4, 6.05],
  [15.75, 15.3, 14.9, 14.5, 14.15, 13.8, 13.45, 13.1, 12.75, 12.4, 12.05, 11.7, 11.35, 11, 10.65, 10.3, 9.95, 9.6, 9.25, 8.9, 8.55, 8.2, 7.85, 7.5, 7.15, 6.8, 6.45, 6.1, 5.75, 5.4],
  [17.85, 16.75, 16.35, 16.05, 15.75, 15.45, 15.15, 14.85, 14.55, 14.25, 13.95, 13.65, 13.35, 13.05, 12.75, 12.45, 12.15, 11.85, 11.55, 11.25, 10.95, 10.65, 10.35, 10.05, 9.75, 9.45, 9.15, 8.85, 8.55, 8.25, 7.95, 7.65, 7.35, 7.05, 6.75, 6.45, 6.15, 5.85, 5.55, 5.25, 4.95, 4.6],
  [17.55, 17.25, 16.95, 16.65, 16.35, 16.05, 15.75, 15.45, 15.15, 14.85, 14.55, 14.25, 13.95, 13.65, 13.35, 13.05, 12.75, 12.45, 12.15, 11.85, 11.55, 11.25, 10.95, 10.65, 10.35, 10.05, 9.75, 9.45, 9.15, 8.85, 8.55, 8.25, 7.95, 7.65, 7.35, 7.05, 6.75, 6.45, 6.15, 5.85, 5.55, 5.25, 4.95, 4.6],
  [18.75, 18.45, 18.1, 17.75, 17.45, 17.15, 16.85, 16.55, 16.25, 15.95, 15.65, 15.35, 15.05, 14.75, 14.45, 14.15, 13.85, 13.55, 13.25, 12.95, 12.65, 12.35, 12.05, 11.75, 11.45, 11.15, 10.85, 10.55, 10.25, 9.95, 9.65, 9.35, 9.05, 8.75, 8.45, 8.15, 7.85, 7.55, 7.25, 6.95, 6.65, 6.35, 6.05, 5.75, 5.45, 5.15],
  [19.25, 18.95, 18.65, 18.35, 18.05, 17.75, 17.45, 17.15, 16.85, 16.55, 16.25, 15.95, 15.65, 15.35, 15.05, 14.75, 14.45, 14.15, 13.85, 13.55, 13.25, 12.95, 12.65, 12.35, 12.05, 11.75, 11.45, 11.15, 10.85, 10.55, 10.25, 9.95, 9.65, 9.35, 9.05, 8.75, 8.45, 8.15, 7.85, 7.55, 7.25, 6.95, 6.65, 6.35, 6.05, 5.75, 5.45],
];

const toPoints = (xs: number[], ys: number[][]) => xs.flatMap((x, i) => ys[i].map((y) => ({ x, y })));

const points1965 = [...toPoints(x1965, y1965), ...toPoints(extraX1965, extraY1965)];
const points1995 = [...toPoints(x1995, y1995), ...toPoints(extraX1995, extraY1995)];

const minus = (v: number) => String(v).replace("-", "\u2212");

function YTick({ x, y, payload }: any) {
  return (
    <text
      x={x}
      y={y}
      transform={`rotate(-90, ${x}, ${y})`}
      textAnchor="middle"
      fontSize={13}
      fontFamily={FONT}
      fill="#000"
    >
      {minus(payload.value)}
    </text>
  );
}

function Dot({ cx, cy }: any) {
  return <circle cx={cx} cy={cy} r={2.8} fill={MARKER} />;
}

interface PanelProps {
  title: string;
  points: { x: number; y: number }[];
  yDomain: number[];
  yTicks: number[];
  top: number;
  height: number;
  plotTop: number;
  plotBottom: number;
  xLabelOffset: number;
  titleTop: number;
}

function Panel({ title, points, yDomain, yTicks, top, height, plotTop, plotBottom, xLabelOffset, titleTop }: PanelProps) {
  return (
    <div style={{ position: "absolute", left: 8, top, width: 738, height, background: PANEL_BG }}>
      <div
        style={{
          position: "absolute",
          left: 25,
          width: 738,
          top: titleTop,
          textAlign: "center",
          fontFamily: FONT,
          fontSize: 18.6,
          lineHeight: "22px",
          whiteSpace: "nowrap",
          color: "#283a66",
        }}
      >
        {title}
      </div>
      <ScatterChart
        width={738}
        height={height}
        margin={{ top: plotTop, right: 7, bottom: 0, left: 0 }}
        style={{ fontFamily: FONT }}
      >
        <CartesianGrid horizontal vertical={false} fill="#ffffff" stroke={PANEL_BG} strokeWidth={1} />
        <XAxis
          type="number"
          dataKey="x"
          domain={xDomain}
          ticks={xTicks}
          height={plotBottom}
          tickSize={5}
          tickMargin={3}
          interval={0}
          tickFormatter={minus}
          tick={{ fontSize: 13, fill: "#000" }}
          axisLine={{ stroke: AXIS_COLOR, strokeWidth: 1.6 }}
          tickLine={{ stroke: "#333" }}
          label={{ value: "Log of democracy", position: "insideBottom", offset: xLabelOffset, fontSize: 13.1, fill: "#000" }}
        />
        <YAxis
          type="number"
          dataKey="y"
          domain={yDomain}
          ticks={yTicks}
          width={58}
          tickSize={5}
          tickMargin={8}
          interval={0}
          tick={<YTick />}
          axisLine={{ stroke: AXIS_COLOR, strokeWidth: 1.6 }}
          tickLine={{ stroke: "#333" }}
          label={{ value: "Log Bilateral Trade in Real $", angle: -90, position: "center", dx: -3, fontSize: 13.1, fill: "#000" }}
        />
        <Scatter data={points} shape={<Dot />} isAnimationActive={false} />
      </ScatterChart>
    </div>
  );
}

export default function App() {
  return (
    <div style={{ position: "absolute", left: 0, top: 0, width: 746, height: 1093, background: "#fff", overflow: "hidden" }}>
      <Panel
        title="Democracy and Bilateral Trade Flows, 1965"
        points={points1965}
        yDomain={[-0.374, 20.42]}
        yTicks={[0, 5, 10, 15, 20]}
        top={5}
        height={546}
        plotTop={42}
        plotBottom={59}
        xLabelOffset={26}
        titleTop={18}
      />
      <Panel
        title="Democracy and Bilateral Trade Flows, 1995"
        points={points1995}
        yDomain={[-10.6, 21.21]}
        yTicks={[-10, 0, 10, 20]}
        top={552}
        height={541}
        plotTop={43}
        plotBottom={53}
        xLabelOffset={21}
        titleTop={18}
      />
    </div>
  );
}
